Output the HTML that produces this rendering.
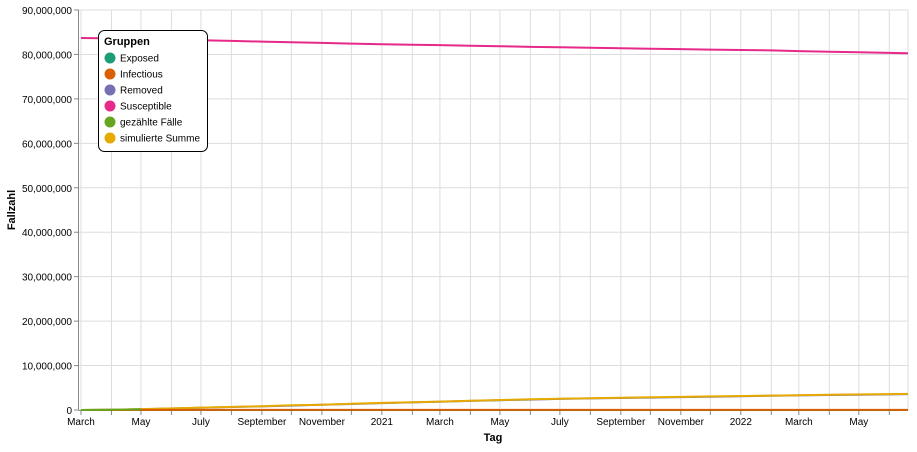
<!DOCTYPE html>
<html><head><meta charset="utf-8"><style>
body{margin:0;background:#fff;font-family:"Liberation Sans",sans-serif}
text{font-family:"Liberation Sans",sans-serif}
</style></head><body>
<svg id="c" width="917" height="447"></svg>
<script>
const months=["2020-03","2020-04","2020-05","2020-06","2020-07","2020-08","2020-09","2020-10","2020-11","2020-12","2021-01","2021-02","2021-03","2021-04","2021-05","2021-06","2021-07","2021-08","2021-09","2021-10","2021-11","2021-12","2022-01","2022-02","2022-03","2022-04","2022-05","2022-06","2022-06-20"];
const susceptible=[83.7,83.6,83.5,83.35,83.2,83.05,82.9,82.75,82.6,82.45,82.3,82.2,82.1,81.95,81.85,81.7,81.6,81.5,81.4,81.3,81.2,81.1,81.0,80.9,80.75,80.6,80.5,80.35,80.25];
const simSum=[0,0.05,0.2,0.35,0.55,0.7,0.85,1.05,1.2,1.4,1.6,1.75,1.9,2.1,2.25,2.4,2.55,2.65,2.75,2.85,2.95,3.05,3.15,3.25,3.33,3.42,3.5,3.57,3.62];
const removed=[0,0.04,0.18,0.33,0.52,0.67,0.82,1.0,1.16,1.35,1.55,1.7,1.85,2.05,2.2,2.35,2.5,2.6,2.7,2.8,2.9,3.0,3.1,3.2,3.28,3.37,3.45,3.52,3.57];
const infectious=[0,0.01,0.02,0.02,0.02,0.02,0.02,0.03,0.03,0.03,0.03,0.03,0.03,0.03,0.03,0.03,0.03,0.03,0.03,0.03,0.03,0.03,0.03,0.03,0.03,0.03,0.03,0.03,0.03];
const exposed=[0,0.01,0.01,0.01,0.01,0.01,0.01,0.01,0.01,0.01,0.01,0.01,0.01,0.01,0.01,0.01,0.01,0.01,0.01,0.01,0.01,0.01,0.01,0.01,0.01,0.01,0.01,0.01,0.01];
const countedMonths=["2020-03","2020-04","2020-05"];
const counted=[0,0.05,0.15];
const yTicks=[0,10,20,30,40,50,60,70,80,90];
const xLabels=[["2020-03","March"],["2020-05","May"],["2020-07","July"],["2020-09","September"],["2020-11","November"],["2021-01","2021"],["2021-03","March"],["2021-05","May"],["2021-07","July"],["2021-09","September"],["2021-11","November"],["2022-01","2022"],["2022-03","March"],["2022-05","May"]];
const NS="http://www.w3.org/2000/svg",svg=document.getElementById("c");
const t0=new Date("2020-02-28").getTime(),t1=new Date("2022-06-20").getTime();
function d(s){return new Date(s.length===7?s+"-01":s).getTime();}
function X(s){return 79+(d(s)-t0)/(t1-t0)*829;}
function Y(v){return 410-v/90*400;}
function el(t,a,p){const e=document.createElementNS(NS,t);for(const k in a)e.setAttribute(k,a[k]);(p||svg).appendChild(e);return e;}
// grid
for(const v of yTicks){const g=el("line",{x1:79,x2:908,y1:Y(v),y2:Y(v),stroke:"#ddd"});

el("line",{x1:74,x2:79,y1:Y(v),y2:Y(v),stroke:"#888"});
const t=el("text",{x:72,y:Y(v)+4,"text-anchor":"end","font-size":10,fill:"#000"});t.textContent=(v*1e6).toLocaleString("en-US");
}
for(let i=0;i<28;i++){const m=months[i];const x=X(m);
const g=el("line",{x1:x,x2:x,y1:10,y2:410,stroke:"#ddd"});
el("line",{x1:x,x2:x,y1:410,y2:415,stroke:"#888"});}
el("line",{x1:908,x2:908,y1:10,y2:410,stroke:"#ddd"});
el("line",{x1:78.5,x2:78.5,y1:10,y2:410,stroke:"#888"});
el("line",{x1:79,x2:908,y1:410.5,y2:410.5,stroke:"#888"});
for(const [m,l] of xLabels){const t=el("text",{x:X(m),y:425,"text-anchor":"middle","font-size":10});t.textContent=l;
}
const xt=el("text",{x:493,y:441,"text-anchor":"middle","font-size":11,"font-weight":"bold"});xt.textContent="Tag";

const yt=el("text",{x:0,y:0,transform:"translate(15,210) rotate(-90)","text-anchor":"middle","font-size":11,"font-weight":"bold"});yt.textContent="Fallzahl";

function line(xs,vs,c,name){const p=el("path",{d:vs.map((v,i)=>(i?"L":"M")+X(xs[i]).toFixed(1)+","+Y(v).toFixed(1)).join(""),fill:"none",stroke:c,"stroke-width":2});
}
line(months,removed,"#7570b3","line-removed");
line(months,simSum,"#e6ab02","line-simulierte-summe");
line(months,exposed,"#1b9e77","line-exposed");
line(months,infectious,"#d95f02","line-infectious");
line(countedMonths,counted,"#66a61e","line-gezaehlte-faelle");
line(months,susceptible,"#e7298a","line-susceptible");
// legend
const lg=el("g",{});
el("rect",{x:98.5,y:30.5,width:109,height:121,rx:6,fill:"#fff",stroke:"#000"},lg);
const lt=el("text",{x:104,y:45,"font-size":11,"font-weight":"bold"},lg);lt.textContent="Gruppen";
const names=["Exposed","Infectious","Removed","Susceptible","gezählte Fälle","simulierte Summe"],cols=["#1b9e77","#d95f02","#7570b3","#e7298a","#66a61e","#e6ab02"];
names.forEach((n,i)=>{const g=el("g",{},lg);
el("circle",{cx:110,cy:58+i*16,r:5.5,fill:cols[i]},g);const t=el("text",{x:120,y:61.5+i*16,"font-size":10},g);t.textContent=n;});
</script></body></html>
